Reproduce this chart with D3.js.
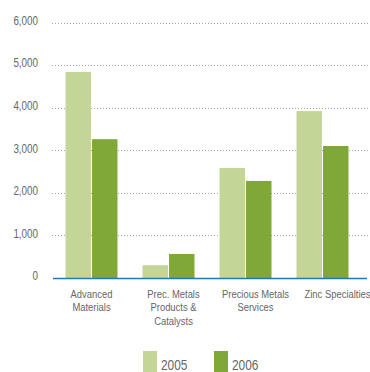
<!DOCTYPE html>
<html>
<head>
<meta charset="utf-8">
<script src="https://cdn.jsdelivr.net/npm/d3@7"></script>
<style>
  html, body { margin: 0; padding: 0; background: #ffffff; }
  svg { display: block; }
  text { font-family: "Liberation Sans", Arial, sans-serif; fill: #666666; }
</style>
</head>
<body>
<svg id="chart" width="370" height="372"></svg>
<script>
// Sales by business unit, two years
const categories = [
  ["Advanced", "Materials"],
  ["Prec. Metals", "Products &", "Catalysts"],
  ["Precious Metals", "Services"],
  ["Zinc Specialties"]
];
const years = ["2005", "2006"];
const values2005 = [4840, 300, 2585, 3920];
const values2006 = [3260, 565, 2280, 3100];
const yTicks = [0, 1000, 2000, 3000, 4000, 5000, 6000];

const colors = { "2005": "#c3d597", "2006": "#80a837" };

// condensed lettering: squeeze text horizontally
const narrow = "scale(0.82,1)";

const svg = d3.select("#chart");
const plotLeft = 53, plotRight = 361, plotTop = 22.5, plotBottom = 278;

const keys = categories.map((c, i) => i);

const x = d3.scaleBand().domain(keys).range([plotLeft, plotRight])
  .paddingInner(0.325).paddingOuter(0.1625);
const xInner = d3.scaleBand().domain(years).range([0, x.bandwidth()]).paddingInner(0.04);
// Category captions sit on a slightly wider pitch than the bars
const xLabel = d3.scaleBand().domain(keys).range([50.5, 378.5]);

const y = d3.scaleLinear().domain([0, 6000]).range([plotBottom, plotTop]);

// dotted gridlines
svg.append("g").selectAll("line")
  .data(yTicks.filter(t => t > 0))
  .join("line")
  .attr("x1", plotLeft - 1).attr("x2", 368)
  .attr("y1", d => Math.round(y(d)) + 0.5).attr("y2", d => Math.round(y(d)) + 0.5)
  .attr("stroke", "#a8a8a8").attr("stroke-width", 1)
  .attr("stroke-dasharray", "1,2");

// y axis labels
const yAxis = d3.axisLeft(y).tickValues(yTicks).tickSize(0).tickPadding(0)
  .tickFormat(d3.format(","));
const gy = svg.append("g").attr("transform", "translate(38,-2)").call(yAxis);
gy.select(".domain").remove();
gy.selectAll("text").style("font-size", "12px").attr("fill", "#666")
  .attr("x", 0).attr("transform", narrow);

// bars
const rows = keys.map(i => ({ i, vals: [values2005[i], values2006[i]] }));
const groups = svg.append("g").selectAll("g").data(rows).join("g")
  .attr("transform", d => `translate(${x(d.i)},0)`);
groups.selectAll("rect")
  .data(d => years.map((yr, k) => ({ yr, v: d.vals[k] })))
  .join("rect")
  .attr("x", d => xInner(d.yr))
  .attr("width", xInner.bandwidth())
  .attr("y", d => y(d.v))
  .attr("height", d => y(0) - y(d.v))
  .attr("fill", d => colors[d.yr]);

// baseline
svg.append("line")
  .attr("x1", plotLeft).attr("x2", 367)
  .attr("y1", y(0) + 0.5).attr("y2", y(0) + 0.5)
  .attr("stroke", "#1f7ab8").attr("stroke-width", 1.5);

// category labels
const cat = svg.append("g").selectAll("g").data(keys).join("g")
  .attr("transform", i => `translate(${xLabel(i) + xLabel.bandwidth() / 2},298)`)
  .append("text")
  .attr("text-anchor", "middle")
  .attr("transform", narrow)
  .style("font-size", "11.5px");
cat.selectAll("tspan").data(i => categories[i]).join("tspan")
  .attr("x", 0)
  .attr("dy", (d, k) => k === 0 ? 0 : 13.3)
  .text(d => d);

// legend
const legendX = d3.scalePoint().domain(years).range([143, 214]);
const lg = svg.append("g").selectAll("g").data(years).join("g")
  .attr("transform", d => `translate(${legendX(d)},351)`);
lg.append("rect").attr("width", 14).attr("height", 21).attr("fill", d => colors[d]);
lg.append("g").attr("transform", "translate(18,18.5)")
  .append("text").attr("transform", narrow)
  .style("font-size", "14.5px").text(d => d);
</script>
</body>
</html>
